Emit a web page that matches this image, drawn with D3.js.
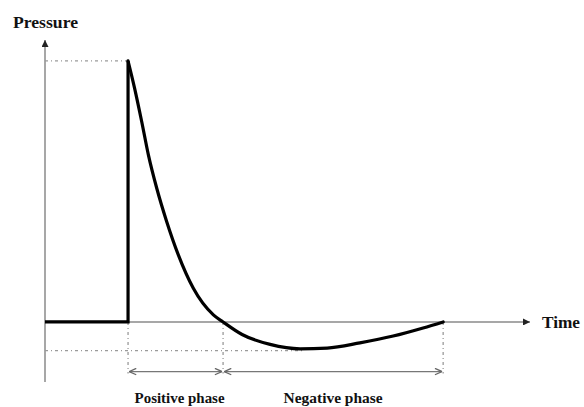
<!DOCTYPE html>
<html>
<head>
<meta charset="utf-8">
<script src="https://cdn.jsdelivr.net/npm/d3@7"></script>
<style>
  html, body { margin: 0; padding: 0; background: #fff; }
  svg { display: block; }
  text { font-family: "Liberation Serif", "Times New Roman", serif; font-weight: bold; fill: #111; }
</style>
</head>
<body>
<svg id="chart" width="584" height="407"></svg>
<script>
// ---- data (time in units of positive-phase duration, pressure relative to peak) ----
const axisLabels = ["Pressure", "Time"];
const phaseLabels = ["Positive phase", "Negative phase"];
const phaseBounds = [0, 1, 3.316];          // arrival, end of positive phase, end of negative phase
const peakPressure = 1;
const minPressure = -0.11;                   // negative peak marker
const minPressureTime = 1.85;
const preTime = [-0.874, 0, 0];
const prePressure = [0, 0, 1];
const decayTime = [0, 0.068, 0.144, 0.214, 0.302, 0.407, 0.529, 0.687, 0.898, 1.0, 1.2, 1.495, 1.81, 2.095, 2.44, 2.79, 3.105, 3.316];
const decayPressure = [1, 0.897, 0.767, 0.640, 0.512, 0.384, 0.257, 0.129, 0.027, 0, -0.048, -0.086, -0.103, -0.1, -0.08, -0.054, -0.023, 0];

// ---- layout ----
const svg = d3.select("#chart");
const x = d3.scaleLinear().domain([-0.874, 4.23]).range([45, 530]);
const y = d3.scaleLinear().domain([-0.23, 1.08]).range([382, 40]);
const arrowP = -0.19;
const gray = "#8a8a8a";
const dotGray = "#9a9a9a";

const defs = svg.append("defs");
defs.append("marker").attr("id", "tri").attr("viewBox", "0 0 10 10")
  .attr("refX", 10).attr("refY", 5).attr("markerWidth", 9).attr("markerHeight", 7)
  .attr("markerUnits", "userSpaceOnUse").attr("orient", "auto")
  .append("path").attr("d", "M0,0 L10,5 L0,10 Z").attr("fill", "#222");
defs.append("marker").attr("id", "chev").attr("viewBox", "0 0 10 10")
  .attr("refX", 10).attr("refY", 5).attr("markerWidth", 8).attr("markerHeight", 8)
  .attr("markerUnits", "userSpaceOnUse").attr("orient", "auto-start-reverse")
  .append("path").attr("d", "M1,1 L10,5 L1,9").attr("fill", "none").attr("stroke", "#666").attr("stroke-width", 1.6);

// axes
svg.append("line").attr("x1", x(-0.874)).attr("x2", x(4.23)).attr("y1", y(0)).attr("y2", y(0))
  .attr("stroke", gray).attr("stroke-width", 1.5).attr("marker-end", "url(#tri)");
svg.append("line").attr("x1", x(-0.874)).attr("x2", x(-0.874)).attr("y1", y(-0.23)).attr("y2", y(1.08))
  .attr("stroke", gray).attr("stroke-width", 1.5).attr("marker-end", "url(#tri)");

// dotted guide lines
const dash = "3,3,1,3";
function dotted(x1, y1, x2, y2) {
  svg.append("line").attr("x1", x1).attr("y1", y1).attr("x2", x2).attr("y2", y2)
    .attr("stroke", dotGray).attr("stroke-width", 1.3).attr("stroke-dasharray", dash);
}
dotted(x(-0.874), y(peakPressure), x(0), y(peakPressure));
dotted(x(-0.874), y(minPressure), x(minPressureTime), y(minPressure));
phaseBounds.forEach(t => dotted(x(t), y(0), x(t), y(arrowP) + 2));

// phase arrows
for (let i = 0; i < 2; i++) {
  svg.append("line").attr("x1", x(phaseBounds[i]) + 1).attr("x2", x(phaseBounds[i + 1]) - 1)
    .attr("y1", y(arrowP)).attr("y2", y(arrowP))
    .attr("stroke", "#777").attr("stroke-width", 1.3)
    .attr("marker-start", "url(#chev)").attr("marker-end", "url(#chev)");
  const mid = (x(phaseBounds[i]) + x(phaseBounds[i + 1])) / 2;
  svg.append("text").attr("x", mid + (i === 0 ? 4 : 0)).attr("y", y(arrowP) + 31)
    .attr("text-anchor", "middle").attr("font-size", 15)
    .attr("textLength", i === 0 ? 90 : 99).attr("lengthAdjust", "spacingAndGlyphs")
    .text(phaseLabels[i]);
}

// pressure curve
const line = d3.line().x(d => x(d[0])).y(d => y(d[1]));
svg.append("path").datum(d3.zip(preTime, prePressure))
  .attr("d", line).attr("fill", "none").attr("stroke", "#000").attr("stroke-width", 3.2)
  .attr("stroke-linejoin", "miter");
svg.append("path").datum(d3.zip(decayTime, decayPressure))
  .attr("d", line.curve(d3.curveMonotoneX))
  .attr("fill", "none").attr("stroke", "#000").attr("stroke-width", 3.2).attr("stroke-linecap", "round");

// axis labels
svg.append("text").attr("x", 13).attr("y", 28).attr("font-size", 17)
  .attr("textLength", 65).attr("lengthAdjust", "spacingAndGlyphs").text(axisLabels[0]);
svg.append("text").attr("x", 542).attr("y", y(0) + 6).attr("font-size", 17)
  .attr("textLength", 38).attr("lengthAdjust", "spacingAndGlyphs").text(axisLabels[1]);
</script>
</body>
</html>
